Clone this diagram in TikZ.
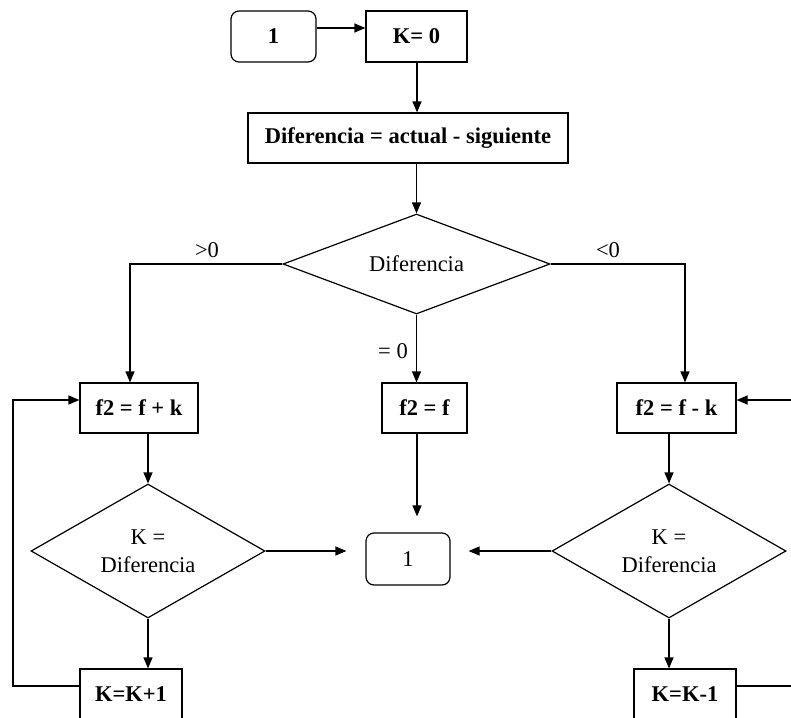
\documentclass[tikz,border=0pt]{standalone}
\usepackage{fontspec}
\setmainfont{Liberation Serif}
\usetikzlibrary{shapes.geometric,arrows.meta}
\begin{document}
\begin{tikzpicture}[x=1pt,y=-1pt,
  txt/.style={font=\fontsize{22.5}{28}\selectfont},
  line/.style={line width=1.2pt, draw=black},
  arr/.style={line, -{Triangle[length=11pt,width=9pt]}},
  proc/.style={draw, line width=1.2pt, rectangle, inner sep=0pt, font=\fontsize{22.5}{28}\selectfont\bfseries},
  term/.style={proc, rounded corners=8pt},
  dec/.style={draw, line width=1.2pt, diamond, aspect=2, inner sep=0pt, align=center, txt},
  lbl/.style={txt, inner sep=0pt}
]
\clip (0,0) rectangle (791,717);

% boxes and decisions
\node[term, minimum width=85pt, minimum height=51pt] (one1) at (273.5,36.5) {1};
\node[proc, minimum width=101pt, minimum height=51pt] (k0) at (416.5,36.5) {K= 0};
\node[proc, minimum width=320pt, minimum height=50pt] (dif) at (408,138) {Diferencia = actual - siguiente};
\node[dec, minimum width=267pt, minimum height=100pt] (d0) at (416.5,264) {Diferencia};

\node[proc, minimum width=118pt, minimum height=50pt] (fpk) at (139,408) {f2 = f + k};
\node[proc, minimum width=85pt, minimum height=50pt] (feq) at (424.5,408) {f2 = f};
\node[proc, minimum width=119pt, minimum height=50pt] (fmk) at (676.5,408) {f2 = f - k};

\node[dec, minimum width=234pt, minimum height=134pt] (dl) at (148,551) {K =\\Diferencia};
\node[term, font=\fontsize{22.5}{28}\selectfont, minimum width=84pt, minimum height=52pt] (one2) at (408,559) {1};
\node[dec, minimum width=234pt, minimum height=134pt] (dr) at (669,551) {K =\\Diferencia};

\node[proc, minimum width=102pt, minimum height=50pt] (kp1) at (131,694) {K=K+1};
\node[proc, minimum width=102pt, minimum height=50pt] (km1) at (685,694) {K=K-1};

% branch labels
\node[lbl] (lgt) at (207,250) {>0};
\node[lbl] (llt) at (608,250) {<0};
\node[lbl] (leq) at (393,351) {= 0};

% helper coordinates for routing
\coordinate (ya) at (0,28);
\coordinate (xl) at (130,0);
\coordinate (xr) at (685,0);
\coordinate (xm) at (417,0);
\coordinate (lb) at (13,686);
\coordinate (lt) at (13,400);
\coordinate (rb) at (791,686);
\coordinate (rt) at (791,400);

% connectors
\draw[arr] (one1.east |- ya) -- (k0.west |- ya);
\draw[arr] (k0.south -| xm) -- (dif.north -| xm);
\draw[arr] (dif.south -| d0.north) -- (d0.north);
\draw[arr] (d0.west) -| (fpk.north -| xl);
\draw[arr] (d0.east) -| (fmk.north -| xr);
\draw[arr] (d0.south) -- (feq.north -| d0.south);

\draw[arr] (fpk.south -| dl.north) -- (dl.north);
\draw[arr] (fmk.south -| dr.north) -- (dr.north);
\draw[arr, shorten >=16pt] (feq.south -| xm) -- (one2.north -| xm);
\draw[arr, shorten >=19pt] (dl.east) -- (one2.west |- dl.east);
\draw[arr, shorten >=18pt] (dr.west) -- (one2.east |- dr.west);

\draw[arr] (dl.south) -- (kp1.north -| dl.south);
\draw[arr] (dr.south) -- (km1.north -| dr.south);

\draw[arr] (kp1.west |- lb) -- (lb) -- (lt) -- (fpk.west |- lt);
\draw[line] (km1.east |- rb) -- (rb);
\draw[arr] (rt) -- (fmk.east |- rt);
\end{tikzpicture}
\end{document}
